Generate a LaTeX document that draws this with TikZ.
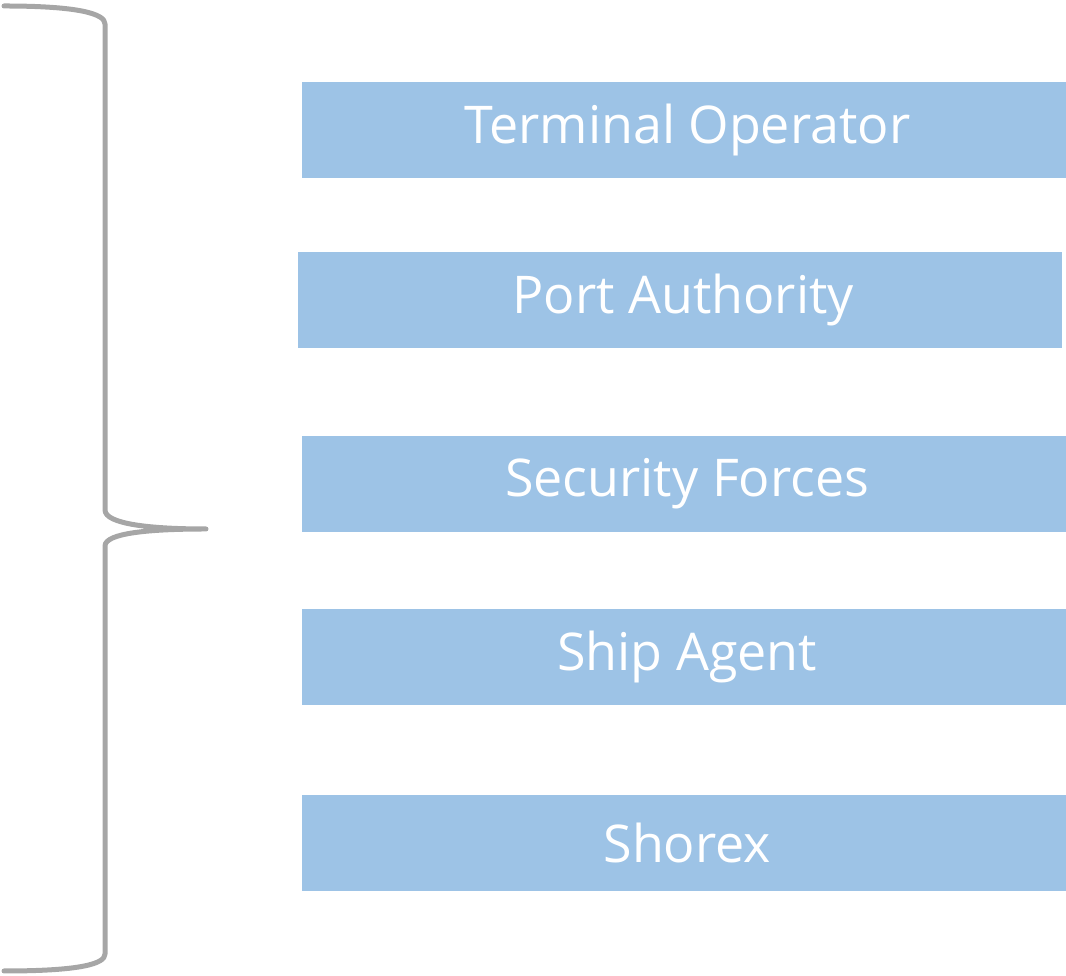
\documentclass[tikz,border=0pt]{standalone}
\usepackage{fontspec}
\setmainfont{Open Sans}
\definecolor{boxblue}{HTML}{9DC3E6}
\definecolor{bracegray}{HTML}{A6A6A6}
\begin{document}
\begin{tikzpicture}[x=1pt,y=1pt,
  role/.style={fill=boxblue, draw=none, minimum width=764pt, minimum height=96pt, inner sep=0pt, anchor=south west},
  label/.style={text=white, font=\fontsize{52}{56}\selectfont, xshift=3pt},
  bracestyle/.style={draw=bracegray, line width=5pt, line cap=round, line join=round}]
\useasboundingbox (0,0) rectangle (1066,976);
\node[role] (t) at (302,798) {};
\node[label] (tl) at (t.center) {Terminal Operator};
\node[role] (p) at (298,628) {};
\node[label] (pl) at (p.center) {Port Authority};
\node[role] (s) at (302,444) {};
\node[label] (sl) at (s.center) {Security Forces};
\node[role] (a) at (302,271) {};
\node[label] (al) at (a.center) {Ship Agent};
\node[role] (x) at (302,85) {};
\node[label] (xl) at (x.center) {Shorex};
\coordinate (tip) at (206,447);
\draw[bracestyle] (4,970) .. controls (80,970) and (105,962) .. (105,952) -- (105,466)
  .. controls (105,452) and (150,447) .. (tip)
  .. controls (150,447) and (105,443) .. (105,430) -- (105,22)
  .. controls (105,12) and (80,5) .. (4,5);
\end{tikzpicture}
\end{document}
